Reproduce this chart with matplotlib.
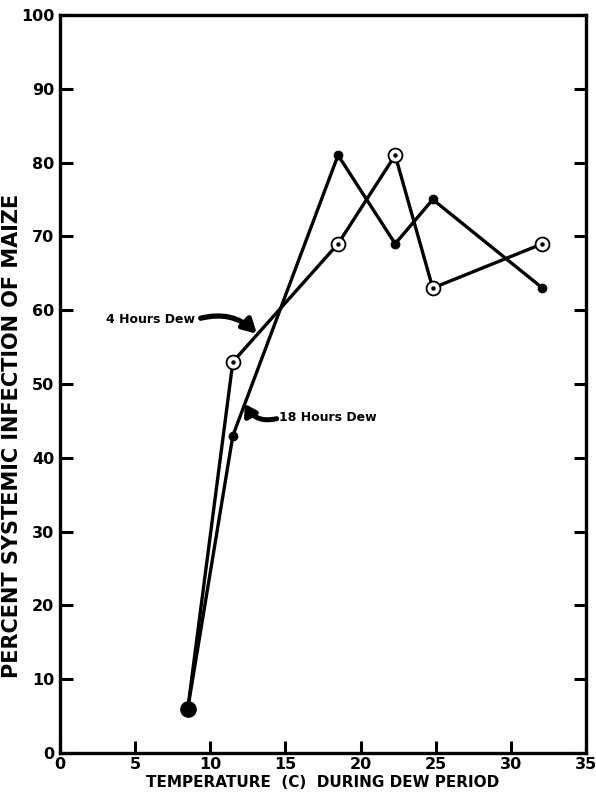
import matplotlib
matplotlib.use("Agg")
import matplotlib.pyplot as plt

# Data
temps = [8.5, 11.5, 18.5, 22.3, 24.8, 32.1]
dew4 = [6, 53, 69, 81, 63, 69]
dew18 = [6, 43, 81, 69, 75, 63]
xticks = [0, 5, 10, 15, 20, 25, 30, 35]
yticks = [0, 10, 20, 30, 40, 50, 60, 70, 80, 90, 100]

plt.rcParams['font.family'] = ['DejaVu Sans']
plt.rcParams['font.weight'] = 'bold'

fig = plt.figure(figsize=(5.96, 7.97), dpi=100)
ax = fig.add_axes([0.1007, 0.0552, 0.8826, 0.926])

lw = 2.4
ax.plot(temps, dew18, color='black', lw=lw, zorder=2)
ax.plot(temps, dew4, color='black', lw=lw, zorder=2)
# filled dots for 18 hours dew
ax.plot(temps[1:], dew18[1:], 'o', color='black', ms=6, zorder=3)
# open circles with centre dot for 4 hours dew
ax.plot(temps[1:], dew4[1:], 'o', mfc='white', mec='black', mew=1.3, ms=10, zorder=4)
ax.plot(temps[1:], dew4[1:], 'o', color='black', ms=2.2, zorder=5)
# common start point
ax.plot(temps[:1], dew4[:1], 'o', color='black', ms=11, zorder=5)

ax.set_xlim(0, 35)
ax.set_ylim(0, 100)
ax.set_xticks(xticks)
ax.set_yticks(yticks)
ax.tick_params(axis='x', direction='in', length=9, width=2.2, labelsize=11.5, pad=3,
               bottom=True, top=False)
ax.tick_params(axis='y', direction='in', length=9, width=2.2, labelsize=11.5, pad=4,
               left=True, right=True)
for lab in ax.get_xticklabels() + ax.get_yticklabels():
    lab.set_fontweight('bold')
for s in ax.spines.values():
    s.set_linewidth(2.4)

ax.set_xlabel('TEMPERATURE  (C)  DURING DEW PERIOD', fontsize=11, fontweight='bold', labelpad=2)
ax.set_ylabel('PERCENT SYSTEMIC INFECTION OF MAIZE', fontsize=15, fontweight='bold')
ax.yaxis.set_label_coords(-0.072, 0.43)

ax.annotate('4 Hours Dew', xy=(13.1, 56.8), xytext=(9.0, 58.7),
            fontsize=9, fontweight='bold', ha='right', va='center',
            arrowprops=dict(arrowstyle='-|>,head_length=0.9,head_width=0.5', lw=3.8,
                            color='black', shrinkA=2, shrinkB=0,
                            connectionstyle='arc3,rad=-0.3', relpos=(1.0, 0.5)))
ax.annotate('18 Hours Dew', xy=(12.3, 47.3), xytext=(14.6, 45.4),
            fontsize=9, fontweight='bold', ha='left', va='center',
            arrowprops=dict(arrowstyle='-|>,head_length=0.7,head_width=0.45', lw=3.6,
                            color='black', shrinkA=0, shrinkB=0,
                            connectionstyle='arc3,rad=-0.4', relpos=(0.0, 0.5)))

fig.savefig('out.png', dpi=100)
